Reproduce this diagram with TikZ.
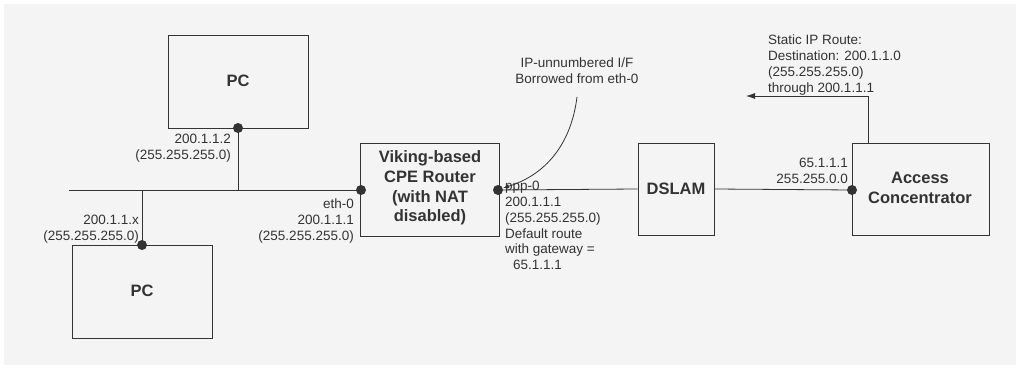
\documentclass[tikz,border=0pt]{standalone}
\usepackage{fontspec}
\setmainfont{Liberation Sans}
\usetikzlibrary{arrows.meta}
\definecolor{ink}{HTML}{333333}
\definecolor{bg}{HTML}{F4F4F4}
\tikzset{
  box/.style={draw=ink, line width=0.9pt, minimum width=#1, inner sep=0pt},
  lbl/.style={text=ink, inner sep=0pt, font=\fontsize{13.5}{15.8}\selectfont},
  big/.style={text=ink, font=\fontsize{16.5}{19.7}\selectfont\bfseries, align=center},
  port/.style={circle, fill=ink, minimum size=10pt, inner sep=0pt},
  wire/.style={draw=ink, line width=0.8pt},
}
\begin{document}
\begin{tikzpicture}[x=1pt,y=-1pt]
\useasboundingbox (0,0) rectangle (1021,369);
\fill[white] (0,0) rectangle (1021,369);
\fill[bg] (4,4) rectangle (1016,365);
% boxes
\node[box=140pt, minimum height=93pt] (pc1) at (238,81.5) {};
\node[big] (pc1t) at (238,81) {PC};
\node[box=140pt, minimum height=93pt] (pc2) at (142,291.5) {};
\node[big] (pc2t) at (142,291) {PC};
\node[box=139pt, minimum height=93pt] (rtr) at (429.5,189.5) {};
\node[big] (rtrt) at (430,188) {Viking-based\\CPE Router\\(with NAT\\disabled)};
\node[box=76pt, minimum height=92pt] (dslam) at (676,189) {};
\node[big] (dslamt) at (676,189) {DSLAM};
\node[box=137pt, minimum height=92pt] (ac) at (920.5,189) {};
\node[big] (act) at (920,188) {Access\\Concentrator};
% ports
\node[port] (p1) at (238,128) {};
\node[port] (p2) at (142,245) {};
\node[port] (eth) at (361,190) {};
\node[port] (ppp) at (498,190) {};
\node[port] (acp) at (852,190) {};
\coordinate (busL) at (69,190);
% wires
\draw[wire] (busL) -- (eth.center);
\draw[wire] (p1.center) -- (p1.center |- busL);
\draw[wire] (p2.center) -- (p2.center |- busL);
\draw[wire] (ppp.center) -- (dslam.west);
\draw[wire] (dslam.east) -- (acp.center);
% static route arrow
\coordinate (acTop) at (868,143);
\coordinate (bend) at (868,96);
\coordinate (tipS) at (746,96);
\draw[wire, -{Latex[length=9pt,width=6pt]}] (acTop) -- (bend) -- (tipS);
% curved annotation
\node[lbl, align=center, anchor=north] (unn) at (577,58) {IP-unnumbered I/F\\Borrowed from eth-0};
\draw[wire, -{Latex[length=6pt,width=4pt]}] (577,97) .. controls (571,145) and (545,175) .. (503,188);
% labels
\node[lbl, align=right, anchor=north east] (l1) at (231,134) {200.1.1.2\\(255.255.255.0)};
\node[lbl, align=right, anchor=north east] (l2) at (139,215) {200.1.1.x\\(255.255.255.0)};
\node[lbl, align=right, anchor=north east] (l3) at (354,199) {eth-0\\200.1.1.1\\(255.255.255.0)};
\node[lbl, align=left, anchor=north west] (l4) at (505,181) {ppp-0\\200.1.1.1\\(255.255.255.0)\\Default route\\with gateway =\\\hspace*{8pt}65.1.1.1};
\node[lbl, align=right, anchor=north east] (l5) at (848,158) {65.1.1.1\\255.255.0.0};
\node[lbl, align=left, anchor=north west] (l6) at (768,35) {Static IP Route:\\Destination: 200.1.1.0\\(255.255.255.0)\\through 200.1.1.1};
\end{tikzpicture}
\end{document}
